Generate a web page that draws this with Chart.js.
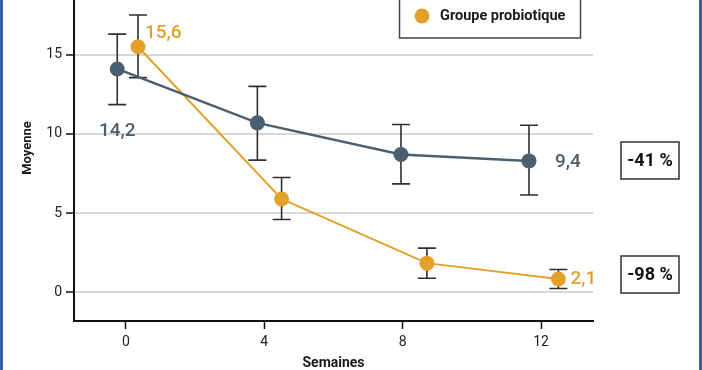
<!DOCTYPE html>
<html>
<head>
<meta charset="utf-8">
<script src="https://cdn.jsdelivr.net/npm/chart.js@4"></script>
<style>
  html, body { margin: 0; padding: 0; background: #fff; }
  #wrap { position: relative; width: 702px; height: 370px; }
</style>
</head>
<body>
<div id="wrap"><canvas id="chart" width="702" height="370"></canvas></div>
<script>
// Semaines (positions légèrement décalées par groupe, comme sur la figure)
const weekTicks = [0, 4, 8, 12];
const controlX = [-0.25, 3.8, 7.95, 11.65];
const probioX = [0.35, 4.5, 8.7, 12.5];

// Moyennes
const controlMean = [14.1, 10.7, 8.7, 8.3];
const probioMean = [15.5, 5.9, 1.85, 0.85];

// Barres d'erreur (bas / haut)
const controlLow = [11.85, 8.35, 6.85, 6.15];
const controlHigh = [16.3, 13.0, 10.6, 10.55];
const probioLow = [13.55, 4.6, 0.9, 0.25];
const probioHigh = [17.5, 7.25, 2.8, 1.45];

// Etiquettes de valeurs
const controlLabels = ['14,2', '', '', '9,4'];
const probioLabels = ['15,6', '', '', '2,1'];

const yTicks = [0, 5, 10, 15];
const reductions = ['-41 %', '-98 %'];
const legendText = 'Groupe probiotique';

const BLUE = '#4a5f6f';
const ORANGE = '#e3a12c';
const FONT = 'Roboto, "DejaVu Sans", sans-serif';

function toPoints(xs, ys) {
    return xs.map((x, i) => ({ x: x, y: ys[i] }));
}

// Barres d'erreur, étiquettes, encadrés, légende
const extras = {
    id: 'extras',
    beforeDatasetsDraw(chart) {
        const ctx = chart.ctx;
        const xs = chart.scales.x, ys = chart.scales.y;
        const groups = [[controlX, controlLow, controlHigh], [probioX, probioLow, probioHigh]];
        ctx.save();
        ctx.strokeStyle = '#2f2f2f';
        ctx.lineWidth = 1.6;
        groups.forEach(([gx, lo, hi]) => {
            gx.forEach((x, i) => {
                const px = xs.getPixelForValue(x);
                const y1 = ys.getPixelForValue(lo[i]);
                const y2 = ys.getPixelForValue(hi[i]);
                ctx.beginPath();
                ctx.moveTo(px, y1); ctx.lineTo(px, y2);
                ctx.moveTo(px - 9, y1); ctx.lineTo(px + 9, y1);
                ctx.moveTo(px - 9, y2); ctx.lineTo(px + 9, y2);
                ctx.stroke();
            });
        });
        ctx.restore();
    },
    afterDraw(chart) {
        const ctx = chart.ctx;
        const xs = chart.scales.x, ys = chart.scales.y;
        ctx.save();

        // étiquettes de valeurs
        ctx.font = '500 19px ' + FONT;
        ctx.textBaseline = 'middle';
        const labelOffsets = {
            c0: [0, 62, 'center'], c3: [26, 1, 'left'],
            p0: [7, -14, 'left'], p3: [12, 0, 'left']
        };
        controlLabels.forEach((t, i) => {
            if (!t) return;
            const o = labelOffsets['c' + i];
            ctx.fillStyle = BLUE;
            ctx.textAlign = o[2];
            ctx.fillText(t, xs.getPixelForValue(controlX[i]) + o[0], ys.getPixelForValue(controlMean[i]) + o[1]);
        });
        probioLabels.forEach((t, i) => {
            if (!t) return;
            const o = labelOffsets['p' + i];
            ctx.fillStyle = ORANGE;
            ctx.textAlign = o[2];
            ctx.fillText(t, xs.getPixelForValue(probioX[i]) + o[0], ys.getPixelForValue(probioMean[i]) + o[1]);
        });

        // encadrés de réduction
        const boxes = [[621, 142], [621, 256]];
        ctx.font = 'bold 18px ' + FONT;
        ctx.textAlign = 'center';
        reductions.forEach((t, i) => {
            const [bx, by] = boxes[i];
            ctx.fillStyle = '#fff';
            ctx.fillRect(bx, by, 58, 37);
            ctx.strokeStyle = '#333';
            ctx.lineWidth = 1.5;
            ctx.strokeRect(bx, by, 58, 37);
            ctx.fillStyle = '#111';
            ctx.fillText(t, bx + 29, by + 19);
        });

        // légende (coupée en haut)
        ctx.strokeStyle = '#444';
        ctx.lineWidth = 1.5;
        ctx.strokeRect(399.5, -20, 181, 58);
        ctx.fillStyle = ORANGE;
        ctx.beginPath();
        ctx.arc(422, 16, 7.5, 0, Math.PI * 2);
        ctx.fill();
        ctx.fillStyle = '#1a1a1a';
        ctx.font = 'bold 14.5px ' + FONT;
        ctx.textAlign = 'left';
        ctx.fillText(legendText, 440, 16);

        // titre de l'axe Y
        ctx.translate(28, 148);
        ctx.rotate(-Math.PI / 2);
        ctx.textAlign = 'center';
        ctx.font = 'bold 13px ' + FONT;
        ctx.fillText('Moyenne', 0, 0);
        ctx.restore();

        // bordures bleues
        ctx.save();
        ctx.fillStyle = '#3b5ea8';
        ctx.fillRect(0, 0, 3, 370);
        ctx.fillRect(699, 0, 3, 370);
        ctx.restore();
    }
};

new Chart(document.getElementById('chart'), {
    type: 'scatter',
    data: {
        datasets: [{
            label: 'Groupe contrôle',
            data: toPoints(controlX, controlMean),
            showLine: true,
            borderColor: BLUE,
            backgroundColor: BLUE,
            borderWidth: 2.5,
            pointRadius: 7.5,
            pointHoverRadius: 7.5,
            pointBorderWidth: 0
        }, {
            label: legendText,
            data: toPoints(probioX, probioMean),
            showLine: true,
            borderColor: ORANGE,
            backgroundColor: ORANGE,
            borderWidth: 2,
            pointRadius: 7.5,
            pointHoverRadius: 7.5,
            pointBorderWidth: 0
        }]
    },
    options: {
        responsive: false,
        animation: false,
        layout: { autoPadding: false, padding: { left: 0, right: 109, top: 0, bottom: 0 } },
        plugins: { legend: { display: false }, tooltip: { enabled: false } },
        scales: {
            x: {
                type: 'linear',
                min: -1.5,
                max: 13.5,
                afterBuildTicks: (s) => { s.ticks = weekTicks.map(v => ({ value: v })); },
                afterFit: (s) => { s.height = 49; s.paddingLeft = 0; s.paddingRight = 0; },
                grid: { drawOnChartArea: false, tickLength: 8, tickColor: '#111', tickWidth: 1.5 },
                border: { color: '#111', width: 2 },
                ticks: { color: '#222', padding: 5, font: { family: FONT, size: 14 } },
                title: {
                    display: true, text: 'Semaines', color: '#1a1a1a',
                    padding: { top: 0, bottom: 0 },
                    font: { family: FONT, size: 14, weight: 'bold', lineHeight: 1 }
                }
            },
            y: {
                min: -1.8,
                max: 18.45,
                afterBuildTicks: (s) => { s.ticks = yTicks.map(v => ({ value: v })); },
                afterFit: (s) => { s.width = 74; s.paddingTop = 0; s.paddingBottom = 0; },
                grid: { color: '#d8d8d8', lineWidth: 2, tickLength: 8, tickColor: '#111', tickWidth: 1.5 },
                border: { color: '#111', width: 2 },
                ticks: { color: '#222', padding: 4, font: { family: FONT, size: 14 } }
            }
        }
    },
    plugins: [extras]
});
</script>
</body>
</html>
